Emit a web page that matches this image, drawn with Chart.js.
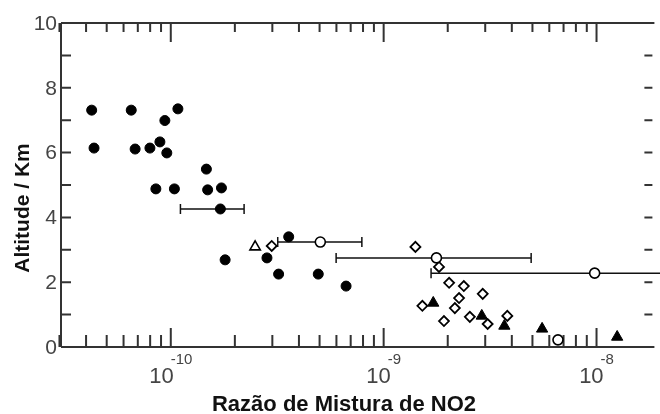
<!DOCTYPE html>
<html><head><meta charset="utf-8">
<script src="https://cdn.jsdelivr.net/npm/chart.js@4"></script>
<style>html,body{margin:0;padding:0;background:#fff;overflow:hidden}canvas{display:block}</style>
</head><body>
<canvas id="c" width="660" height="414"></canvas>
<script>
// ---- data ----
const filledCircleX = [4.25e-11, 4.36e-11, 6.52e-11, 6.8e-11, 7.98e-11, 8.89e-11, 9.38e-11, 9.58e-11, 1.08e-10, 8.51e-11, 1.04e-10, 1.47e-10, 1.49e-10, 1.73e-10, 1.71e-10, 1.8e-10, 2.83e-10, 3.58e-10, 3.21e-10, 4.93e-10, 6.66e-10];
const filledCircleY = [7.31, 6.14, 7.31, 6.11, 6.14, 6.33, 6.99, 5.99, 7.35, 4.88, 4.88, 5.49, 4.85, 4.91, 4.26, 2.69, 2.75, 3.40, 2.25, 2.25, 1.88];
const openCircleX = [5.04e-10, 1.77e-9, 9.8e-9, 6.59e-9];
const openCircleY = [3.24, 2.75, 2.28, 0.22];
const openDiamondX = [2.98e-10, 1.41e-9, 1.82e-9, 2.03e-9, 2.38e-9, 2.92e-9, 2.26e-9, 2.16e-9, 1.52e-9, 1.92e-9, 2.54e-9, 3.08e-9, 3.81e-9];
const openDiamondY = [3.12, 3.09, 2.47, 1.98, 1.88, 1.64, 1.51, 1.20, 1.27, 0.80, 0.93, 0.71, 0.96];
const openTriangleX = [2.49e-10];
const openTriangleY = [3.09];
const filledTriangleX = [1.71e-9, 2.89e-9, 3.69e-9, 5.55e-9, 1.25e-8];
const filledTriangleY = [1.36, 0.96, 0.65, 0.56, 0.31];
// horizontal error bars
const errBarY = [4.26, 3.24, 2.75, 2.28];
const errBarLow = [1.11e-10, 3.18e-10, 5.98e-10, 1.67e-9];
const errBarHigh = [2.21e-10, 7.9e-10, 4.93e-9, 2.5e-8];
// axes
const xMin = 3.05e-11, xMax = 1.83e-8;
const yMin = 0, yMax = 10;
const yTicks = [0, 1, 2, 3, 4, 5, 6, 7, 8, 9, 10];
const yTickLabels = [0, 2, 4, 6, 8, 10];
const xMajorTicks = [1e-10, 1e-9, 1e-8];
const xMajorExp = ['-10', '-9', '-8'];
const xMinorTicks = [3e-11, 4e-11, 5e-11, 6e-11, 7e-11, 8e-11, 9e-11,
  2e-10, 3e-10, 4e-10, 5e-10, 6e-10, 7e-10, 8e-10, 9e-10,
  2e-9, 3e-9, 4e-9, 5e-9, 6e-9, 7e-9, 8e-9, 9e-9];
const xTitle = 'Razão de Mistura de NO2';
const yTitle = 'Altitude / Km';

function pts(xs, ys) { return xs.map((x, i) => ({ x: x, y: ys[i] })); }

const INK = '#333';
const FONT = '"Liberation Sans", Arial, sans-serif';

const framePlugin = {
  id: 'frame',
  beforeDatasetsDraw(chart) {
    const { ctx, chartArea: a, scales } = chart;
    const xs = scales.x, ys = scales.y;
    ctx.save();
    ctx.strokeStyle = INK;
    ctx.lineWidth = 2;
    ctx.beginPath();
    ctx.moveTo(a.left, a.top); ctx.lineTo(a.right + 2, a.top);
    ctx.moveTo(a.left, a.top); ctx.lineTo(a.left, a.bottom);
    ctx.moveTo(a.left, a.bottom); ctx.lineTo(a.right + 2, a.bottom);
    // y ticks
    yTicks.forEach(v => {
      const py = ys.getPixelForValue(v);
      ctx.moveTo(a.left, py); ctx.lineTo(a.left + 10, py);
      if (v > 0 && v < 10) { ctx.moveTo(a.right, py); ctx.lineTo(a.right - 8, py); }
    });
    // x ticks
    xMinorTicks.forEach(v => {
      const px = xs.getPixelForValue(v);
      ctx.moveTo(px, a.top); ctx.lineTo(px, a.top + 9);
      ctx.moveTo(px, a.bottom); ctx.lineTo(px, a.bottom - 12);
    });
    xMajorTicks.forEach(v => {
      const px = xs.getPixelForValue(v);
      ctx.moveTo(px, a.top); ctx.lineTo(px, a.top + 19);
      ctx.moveTo(px, a.bottom); ctx.lineTo(px, a.bottom - 19);
    });
    ctx.stroke();
    // error bars
    ctx.strokeStyle = '#111';
    ctx.lineWidth = 1.5;
    ctx.beginPath();
    errBarY.forEach((y, i) => {
      const py = ys.getPixelForValue(y);
      const x1 = xs.getPixelForValue(errBarLow[i]);
      const x2 = xs.getPixelForValue(errBarHigh[i]);
      ctx.moveTo(x1, py); ctx.lineTo(x2, py);
      ctx.moveTo(x1, py - 5); ctx.lineTo(x1, py + 5);
      ctx.moveTo(x2, py - 5); ctx.lineTo(x2, py + 5);
    });
    ctx.stroke();
    ctx.restore();
  },
  afterDraw(chart) {
    const { ctx, chartArea: a, scales } = chart;
    const xs = scales.x, ys = scales.y;
    ctx.save();
    ctx.fillStyle = '#444';
    ctx.font = '21px ' + FONT;
    ctx.textAlign = 'right';
    ctx.textBaseline = 'middle';
    yTickLabels.forEach(v => {
      ctx.fillText(String(v), a.left - 4, ys.getPixelForValue(v) + 1);
    });
    // x labels 10^n
    ctx.textAlign = 'left';
    ctx.textBaseline = 'alphabetic';
    xMajorTicks.forEach((v, i) => {
      const px = xs.getPixelForValue(v);
      ctx.font = '22px ' + FONT;
      const w1 = ctx.measureText('10').width;
      ctx.font = '15px ' + FONT;
      const w2 = ctx.measureText(xMajorExp[i]).width;
      const start = px - (w1 + w2 - 3) / 2;
      ctx.font = '22px ' + FONT;
      ctx.fillText('10', start, 383);
      ctx.font = '15px ' + FONT;
      ctx.fillText(xMajorExp[i], start + w1 - 3, 364);
    });
    // axis titles
    ctx.fillStyle = '#111';
    ctx.font = 'bold 22px ' + FONT;
    ctx.textAlign = 'center';
    ctx.fillText(xTitle, 344, 411);
    ctx.save();
    ctx.translate(29, 208);
    ctx.rotate(-Math.PI / 2);
    ctx.font = 'bold 21px ' + FONT;
    ctx.fillText(yTitle, 0, 0);
    ctx.restore();
    ctx.restore();
  }
};

new Chart(document.getElementById('c'), {
  type: 'scatter',
  data: {
    datasets: [
      { label: 'filled circles', data: pts(filledCircleX, filledCircleY), pointStyle: 'circle', pointRadius: 5, backgroundColor: '#000', borderColor: '#000', borderWidth: 1 },
      { label: 'open circles', data: pts(openCircleX, openCircleY), pointStyle: 'circle', pointRadius: 5, backgroundColor: '#fff', borderColor: '#000', borderWidth: 1.6 },
      { label: 'open diamonds', data: pts(openDiamondX, openDiamondY), pointStyle: 'rectRot', pointRadius: 5, backgroundColor: '#fff', borderColor: '#000', borderWidth: 1.8 },
      { label: 'open triangles', data: pts(openTriangleX, openTriangleY), pointStyle: 'triangle', pointRadius: 6, backgroundColor: '#fff', borderColor: '#000', borderWidth: 1.6 },
      { label: 'filled triangles', data: pts(filledTriangleX, filledTriangleY), pointStyle: 'triangle', pointRadius: 6.5, backgroundColor: '#000', borderColor: '#000', borderWidth: 1 }
    ]
  },
  options: {
    responsive: false,
    animation: false,
    events: [],
    layout: { padding: { left: 61, top: 23, right: 0, bottom: 67 } },
    plugins: { legend: { display: false }, tooltip: { enabled: false } },
    scales: {
      x: { type: 'logarithmic', min: xMin, max: xMax, display: false },
      y: { type: 'linear', min: yMin, max: yMax, display: false }
    }
  },
  plugins: [framePlugin]
});
</script>
</body></html>
